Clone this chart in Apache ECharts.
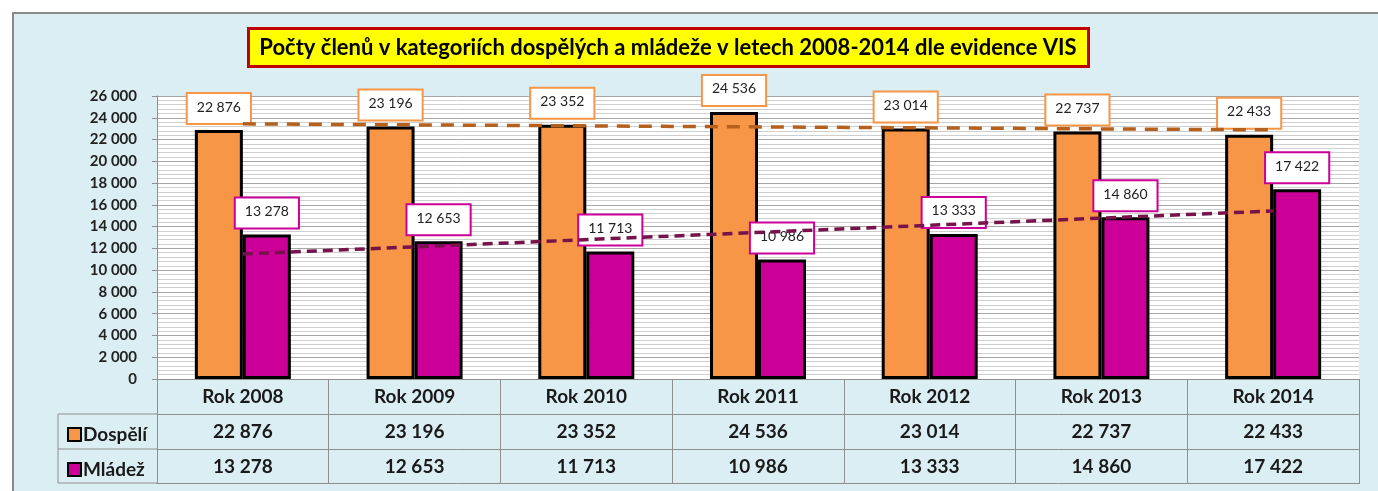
<!DOCTYPE html>
<html>
<head>
<meta charset="utf-8">
<script src="https://cdn.jsdelivr.net/npm/echarts@6/dist/echarts.min.js"></script>
<style>
  html, body { margin: 0; padding: 0; background: #fff; }
  #chart { width: 1378px; height: 491px; }
</style>
</head>
<body>
<div id="chart"></div>
<script>
const categories = ['Rok 2008', 'Rok 2009', 'Rok 2010', 'Rok 2011', 'Rok 2012', 'Rok 2013', 'Rok 2014'];
const seriesNames = ['Dospělí', 'Mládež'];
const adults = [22876, 23196, 23352, 24536, 23014, 22737, 22433];
const youth = [13278, 12653, 11713, 10986, 13333, 14860, 17422];
// linear trend line end points (first and last year)
const adultsTrend = [23440, 22886];
const youthTrend = [11485, 15442];
const yMin = 0, yMax = 26000, yStep = 2000;
const titleText = 'Počty členů v kategoriích dospělých a mládeže v letech 2008-2014 dle evidence VIS';

const fmt = v => String(v).replace(/\B(?=(\d{3})+(?!\d))/g, ' ');
const FONT = 'Lato';
const GRID_LINE = '#8f8f8f';

const chart = echarts.init(document.getElementById('chart'), null, { renderer: 'canvas' });

const tableAxis = (offset, formatter, showLabel) => ({
  type: 'category',
  data: categories,
  position: 'bottom',
  offset: offset,
  boundaryGap: true,
  axisLine: { show: true, lineStyle: { color: GRID_LINE, width: 1 } },
  axisTick: { show: showLabel, interval: 0, length: 35, lineStyle: { color: GRID_LINE, width: 1 } },
  axisLabel: {
    show: showLabel, interval: 0, margin: 8,
    fontFamily: FONT, fontWeight: 'bold', fontSize: 19, color: '#1a1a1a',
    formatter: formatter
  },
  splitLine: { show: false }
});

const barLabel = (border) => ({
  show: true, position: 'top', distance: 7,
  formatter: p => fmt(p.value),
  fontFamily: FONT, fontSize: 14, color: '#222',
  backgroundColor: '#fff', borderColor: border, borderWidth: 2,
  padding: [6, 9, 9, 9]
});

const legendItem = (name, top) => ({
  data: [{ name: name, icon: 'rect' }], left: 62, top: top, orient: 'horizontal',
  itemWidth: 13, itemHeight: 13, itemGap: 5,
  itemStyle: { borderColor: '#000', borderWidth: 2 },
  textStyle: { fontFamily: FONT, fontWeight: 'bold', fontSize: 19, color: '#1a1a1a', padding: [0, 0, 0, -3] }
});

const option = {
  backgroundColor: '#fff',
  animation: false,
  graphic: [
    { type: 'rect', z: -100, silent: true,
      shape: { x: 13, y: 13, width: 1400, height: 500 },
      style: { fill: '#DBEEF4', stroke: '#8a8a8a', lineWidth: 2 } },
    { type: 'rect', silent: true,
      shape: { x: 248.5, y: 28.5, width: 840, height: 38 },
      style: { fill: '#FFFF00', stroke: '#C00000', lineWidth: 3 } },
    { type: 'text', silent: true, x: 668, y: 48,
      style: { text: titleText, fill: '#000', font: 'bold 22px ' + FONT, textAlign: 'center', textVerticalAlign: 'middle' } },
    // left column of the data table
    { type: 'line', silent: true, shape: { x1: 58, y1: 414, x2: 157, y2: 414 }, style: { stroke: GRID_LINE, lineWidth: 1 } },
    { type: 'line', silent: true, shape: { x1: 58, y1: 449, x2: 157, y2: 449 }, style: { stroke: GRID_LINE, lineWidth: 1 } },
    { type: 'line', silent: true, shape: { x1: 58, y1: 483, x2: 157, y2: 483 }, style: { stroke: GRID_LINE, lineWidth: 1 } },
    { type: 'line', silent: true, shape: { x1: 58, y1: 414, x2: 58, y2: 483 }, style: { stroke: GRID_LINE, lineWidth: 1 } }
  ],
  legend: [ legendItem(seriesNames[0], 420), legendItem(seriesNames[1], 455) ],
  grid: {
    left: 157, right: 19, top: 96, bottom: 112,
    show: true, backgroundColor: '#fff', borderWidth: 0,
    containLabel: false
  },
  xAxis: [
    tableAxis(0, v => v, true),
    tableAxis(35, (v, i) => fmt(adults[i]), true),
    tableAxis(70, (v, i) => fmt(youth[i]), true),
    tableAxis(104, null, false)
  ],
  yAxis: {
    type: 'value', min: yMin, max: yMax, interval: yStep,
    axisLine: { show: true, lineStyle: { color: GRID_LINE, width: 1 } },
    axisTick: { show: true, length: 5, lineStyle: { color: GRID_LINE } },
    axisLabel: { margin: 20, fontFamily: FONT, fontWeight: 'bold', fontSize: 15, color: '#222',
      formatter: v => fmt(v) },
    splitLine: { show: true, lineStyle: { color: '#a6a6a6', width: 1 } },
    minorTick: { show: false, splitNumber: 5 },
    minorSplitLine: { show: true, lineStyle: { color: '#cfcfcf', width: 1 } }
  },
  series: [
    { name: seriesNames[0], type: 'bar', xAxisIndex: 0, data: adults,
      barWidth: 48, barGap: '0%', z: 2,
      itemStyle: { color: '#F79646', borderColor: '#000', borderWidth: 3 },
      label: barLabel('#F79646') },
    { name: seriesNames[1], type: 'bar', xAxisIndex: 0, data: youth,
      barWidth: 48, barGap: '0%', z: 2,
      itemStyle: { color: '#CC0099', borderColor: '#000', borderWidth: 3 },
      label: barLabel('#CC0099') },
    { name: 'trend-dospeli', type: 'line', xAxisIndex: 0, z: 3,
      data: [[categories[0], adultsTrend[0]], [categories[categories.length - 1], adultsTrend[1]]],
      symbol: 'none', lineStyle: { color: '#B5601C', width: 3.5, type: [13, 9] } },
    { name: 'trend-mladez', type: 'line', xAxisIndex: 0, z: 3,
      data: [[categories[0], youthTrend[0]], [categories[categories.length - 1], youthTrend[1]]],
      symbol: 'none', lineStyle: { color: '#77124B', width: 3.5, type: [10, 6] } }
  ]
};
chart.setOption(option);
</script>
</body>
</html>
